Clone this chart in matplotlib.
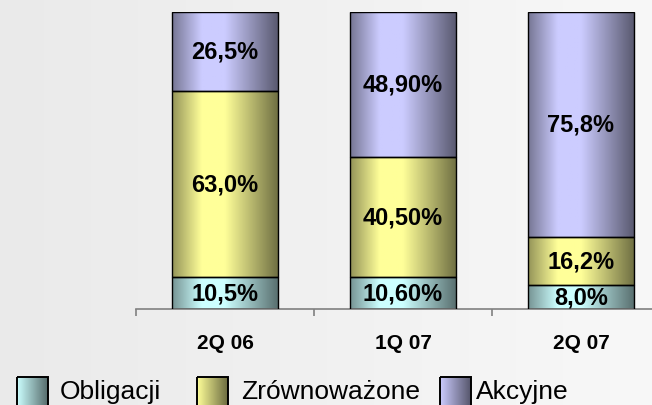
import numpy as np
import matplotlib
matplotlib.use("Agg")
import matplotlib.pyplot as plt
from matplotlib.colors import to_rgb
from matplotlib.patches import Rectangle

plt.rcParams['font.family'] = ['Liberation Sans', 'DejaVu Sans']

quarters = ['2Q 06', '1Q 07', '2Q 07']
series = ['Obligacji', 'Zrównoważone', 'Akcyjne']
obligacji = [10.5, 10.6, 8.0]
zrownowazone = [63.0, 40.5, 16.2]
akcyjne = [26.5, 48.9, 75.8]
labels_obl = ['10,5%', '10,60%', '8,0%']
labels_zrw = ['63,0%', '40,50%', '16,2%']
labels_akc = ['26,5%', '48,90%', '75,8%']
colors = ['#ccffff', '#ffff99', '#ccccff']


def bar_gradient(base, n=200):
    # dark edges, light middle-left, like the office "cylinder" fill
    c = np.array(to_rgb(base))
    x = np.linspace(0, 1, n)
    f = np.interp(x, [0, 0.28, 0.5, 1.0], [0.58, 1.0, 1.0, 0.44])
    return (f[:, None] * c)[None, :, :]


def legend_gradient(base, n=100):
    c = np.array(to_rgb(base))
    f = np.linspace(1.0, 0.42, n)
    return (f[:, None] * c)[None, :, :]


W, H = 652, 406
fig = plt.figure(figsize=(W / 100, H / 100), dpi=100)

# background: soft grey gradient left to right
bg = fig.add_axes([0, 0, 1, 1], zorder=-5)
g = np.linspace(0.918, 0.972, 256)
bg.imshow(np.dstack([g, g, g]).reshape(1, 256, 3), aspect='auto', extent=[0, 1, 0, 1])
bg.set_axis_off()

ax = fig.add_axes([136 / W, (H - 309.5) / H, 534 / W, (309.5 - 13) / H])
ax.patch.set_alpha(0)
x = np.arange(len(quarters))
width = 0.59

bottom = np.zeros(len(quarters))
for vals, labs, col in zip([obligacji, zrownowazone, akcyjne],
                           [labels_obl, labels_zrw, labels_akc], colors):
    bars = ax.bar(x, vals, width, bottom=bottom, color='none', edgecolor='black',
                  linewidth=1.0, zorder=3)
    for b, lab in zip(bars, labs):
        bx, by, bw, bh = b.get_x(), b.get_y(), b.get_width(), b.get_height()
        im = ax.imshow(bar_gradient(col), aspect='auto', extent=[bx, bx + bw, by, by + bh],
                       zorder=2, interpolation='bilinear')
        im.set_clip_path(b)
        ax.text(bx + bw / 2, by + bh / 2, lab, ha='center', va='center',
                fontsize=17, fontweight='bold', zorder=4)
    bottom += np.array(vals)

ax.set_xlim(-0.5, 2.5)
ax.set_ylim(0, 100)
for s in ['top', 'right', 'left']:
    ax.spines[s].set_visible(False)
ax.spines['bottom'].set_color('#808080')
ax.spines['bottom'].set_linewidth(1.2)
ax.set_yticks([])
ax.set_xticks(x)
ax.set_xticklabels(quarters, fontsize=15, fontweight='bold')
ax.set_xticks([-0.5, 0.5, 1.5, 2.5], minor=True)
ax.tick_params(axis='x', which='major', length=0, pad=18)
ax.tick_params(axis='x', which='minor', length=5, color='#808080', width=1.2)

# legend drawn in pixel coordinates
lg = fig.add_axes([0, 0, 1, 1], zorder=5)
lg.set_axis_off()
lg.patch.set_alpha(0)
patch_x = [17, 197, 440]
text_x = [60, 241, 476]
for px, tx, name, col in zip(patch_x, text_x, series, colors):
    r = Rectangle((px, 378), 31, 32, facecolor='none', edgecolor='black', linewidth=1.4, zorder=3)
    lg.add_patch(r)
    im = lg.imshow(legend_gradient(col), aspect='auto', extent=[px, px + 31, 410, 378], zorder=2)
    im.set_clip_path(r)
    lg.text(tx, 399, name, fontsize=19, va='baseline', ha='left')
lg.set_xlim(0, W)
lg.set_ylim(H, 0)

fig.savefig('out.png', dpi=100)
